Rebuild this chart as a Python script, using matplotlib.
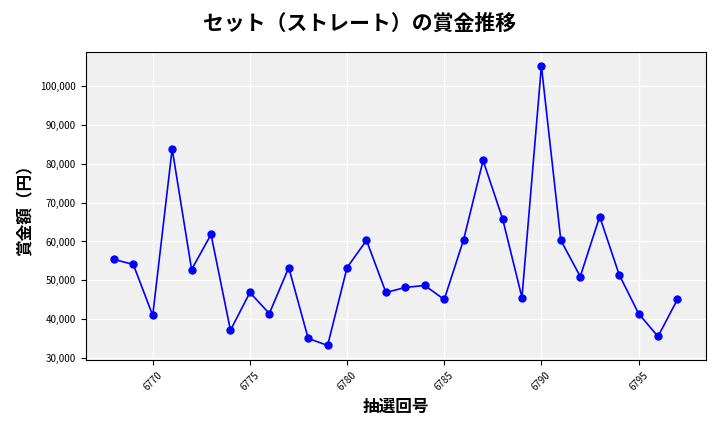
import matplotlib
matplotlib.use("Agg")
import matplotlib.pyplot as plt
from matplotlib.ticker import FuncFormatter

plt.rcParams["font.family"] = "Noto Sans CJK JP"

draws = list(range(6768, 6798))
prizes = [55400, 54100, 41000, 83800, 52800, 61800, 37200, 46900, 41500, 53300,
          35100, 33300, 53300, 60300, 46900, 48200, 48700, 45100, 60500, 80800,
          65900, 45600, 105100, 60300, 51000, 66400, 51500, 41500, 35600, 45100]

fig = plt.figure(figsize=(7.2, 4.32), dpi=100)
ax = fig.add_axes([0.119, 0.167, 0.861, 0.713])
ax.set_facecolor("#f0f0f0")
ax.grid(True, color="white", linewidth=1)
ax.set_axisbelow(True)
ax.plot(draws, prizes, color="blue", marker="o", markersize=5, linewidth=1.2)
ax.set_xticks(range(6770, 6800, 5))
ax.set_yticks(range(30000, 110000, 10000))
ax.set_ylim(29600, 108700)
ax.yaxis.set_major_formatter(FuncFormatter(lambda v, p: f"{int(v):,}"))
ax.tick_params(axis="x", labelrotation=45, labelsize=7)
ax.tick_params(axis="y", labelsize=7)
ax.set_xlabel("抽選回号", fontsize=12, fontweight="bold")
ax.set_ylabel("賞金額（円）", fontsize=12, fontweight="bold")
fig.suptitle("セット（ストレート）の賞金推移", fontsize=15, fontweight="bold", y=0.97)
fig.savefig("out.png")
